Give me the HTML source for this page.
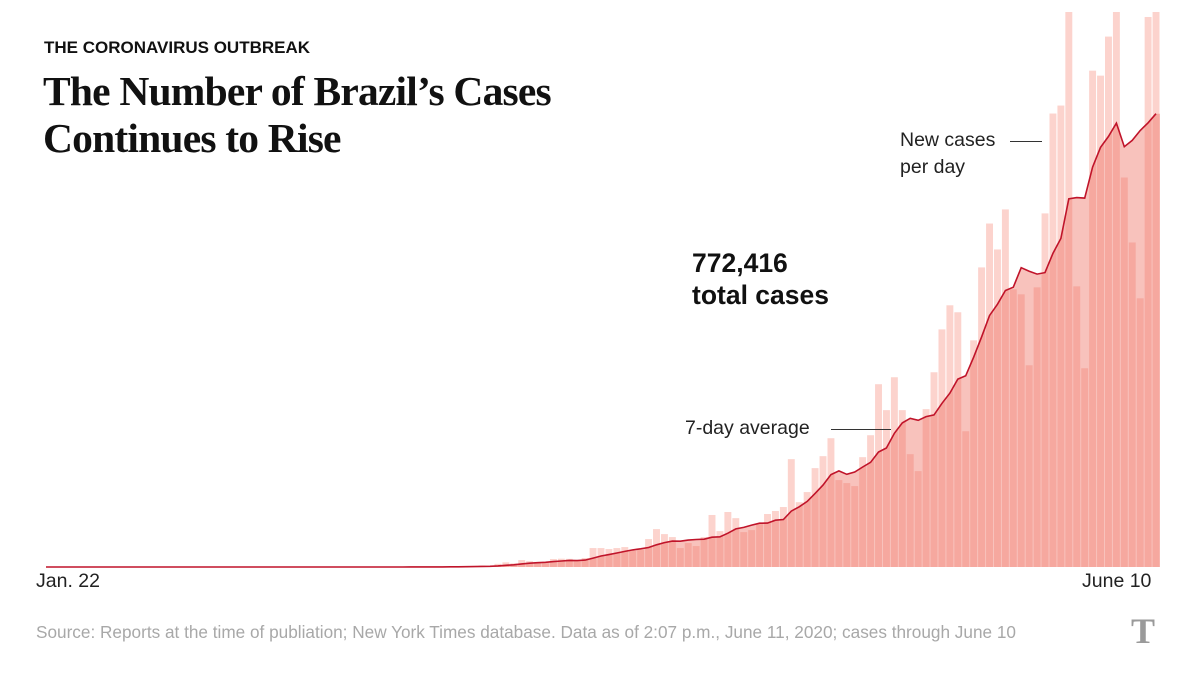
<!DOCTYPE html>
<html><head><meta charset="utf-8"><style>
body{margin:0;background:#fff;width:1200px;height:675px;overflow:hidden;position:relative;font-family:"Liberation Sans",sans-serif}
.t{position:absolute;white-space:nowrap}
</style></head><body>
<svg id="chart" width="1200" height="675" style="position:absolute;left:0;top:0">
<g id="bars"></g><path id="area"></path><path id="avg"></path>
</svg>
<div class="t" style="left:44px;top:38px;font-size:17px;font-weight:bold;color:#111">THE CORONAVIRUS OUTBREAK</div>
<div class="t" style="left:43px;top:68px;font-family:'Liberation Serif',serif;font-weight:bold;font-size:41.5px;line-height:47px;color:#111;letter-spacing:-0.8px">The Number of Brazil’s Cases<br>Continues to Rise</div>
<div class="t" style="left:692px;top:247px;font-size:26.5px;font-weight:bold;line-height:32px;color:#111">772,416<br>total cases</div>
<div class="t" style="left:900px;top:127px;font-size:19.5px;line-height:27px;color:#222">New cases<br>per day</div>
<div class="t" style="left:1010px;top:141px;width:32px;height:1px;background:#333"></div>
<div class="t" style="left:685px;top:417px;font-size:19.5px;color:#222">7-day average</div>
<div class="t" style="left:831px;top:429px;width:60px;height:1px;background:#333"></div>
<div class="t" style="left:36px;top:570px;font-size:19.5px;color:#222">Jan. 22</div>
<div class="t" style="left:1082px;top:570px;font-size:19.5px;color:#222">June 10</div>
<div class="t" style="left:36px;top:622px;font-size:17.2px;color:#a8a8a8">Source: Reports at the time of publiation; New York Times database. Data as of 2:07 p.m., June 11, 2020; cases through June 10</div>
<div class="t" style="left:1131px;top:610px;font-family:'Liberation Serif',serif;font-weight:bold;font-size:36px;color:#9a9a9a">T</div>
<script>
const zeros = new Array(35).fill(0);
const earlyCases = [1,0,0,1,0,2,5,3,0,7,4,10,5,5,20,10,25,21,23];
const midCases = [60,90,60,190,280,220,420,350,310,230,480,500,490,350];
const aprilCases = [540,1140,1140,1080,1140,1200,960,1020,1680,2280,1980,1800,1140,1440,1260,1800,3130,2160,3310,2940,2100,2220,2580,3190,3370,3610,6490,3900,4510,5950,6670,7750,5230,5050,4870,6610];
const mayJuneCases = [7930,11000,9440,11420,9440,6790,5770,9500,11720,14300,15750,15330,8170,13640,18030,20670,19110,21520,16710,16410,12140,16830,21280,27290,27770,33400,16890,11960,29870,29570,31920,33400,23440,19530,16170,33100,33400];
const dailyCases = zeros.concat(earlyCases, midCases, aprilCases, mayJuneCases);
const yMax = 33400;
const plotX0 = 42, plotX1 = 1160, plotBase = 567, plotTop = 12;
const nDays = dailyCases.length;
const bw = (plotX1 - plotX0) / nDays;
function xScale(i){ return plotX0 + i * bw; }
function yScale(v){ return plotBase - Math.min(v, yMax) / yMax * (plotBase - plotTop); }
const avg = dailyCases.map((v,i)=>{ let s=0; for(let j=Math.max(0,i-6);j<=i;j++){s+=dailyCases[j];} return s/7; });
const ns = 'http://www.w3.org/2000/svg';
const g = document.getElementById('bars');
dailyCases.forEach((v,i)=>{
  const r = document.createElementNS(ns,'rect');
  
  
  r.setAttribute('x', xScale(i)+0.5);
  r.setAttribute('width', bw-1);
  r.setAttribute('y', yScale(v));
  r.setAttribute('height', plotBase - yScale(v));
  r.setAttribute('fill', '#fcd3cd');
  g.appendChild(r);
});
let line = '';
avg.forEach((v,i)=>{ line += (i? 'L':'M') + (xScale(i)+bw/2).toFixed(1) + ',' + yScale(v).toFixed(1); });
const area = document.getElementById('area');


area.setAttribute('d', 'M'+plotX0+','+plotBase+'L'+plotX0+','+yScale(avg[0]).toFixed(1)+line.replace(/^M/,'L')+'L'+plotX1+','+yScale(avg[nDays-1]).toFixed(1)+'L'+plotX1+','+plotBase+'Z');
area.setAttribute('fill', 'rgba(238,110,95,0.42)');
const ln = document.getElementById('avg');


ln.setAttribute('d', line);
ln.setAttribute('fill', 'none');
ln.setAttribute('stroke', '#c0142a');
ln.setAttribute('stroke-width', '1.6');
</script>
</body></html>
